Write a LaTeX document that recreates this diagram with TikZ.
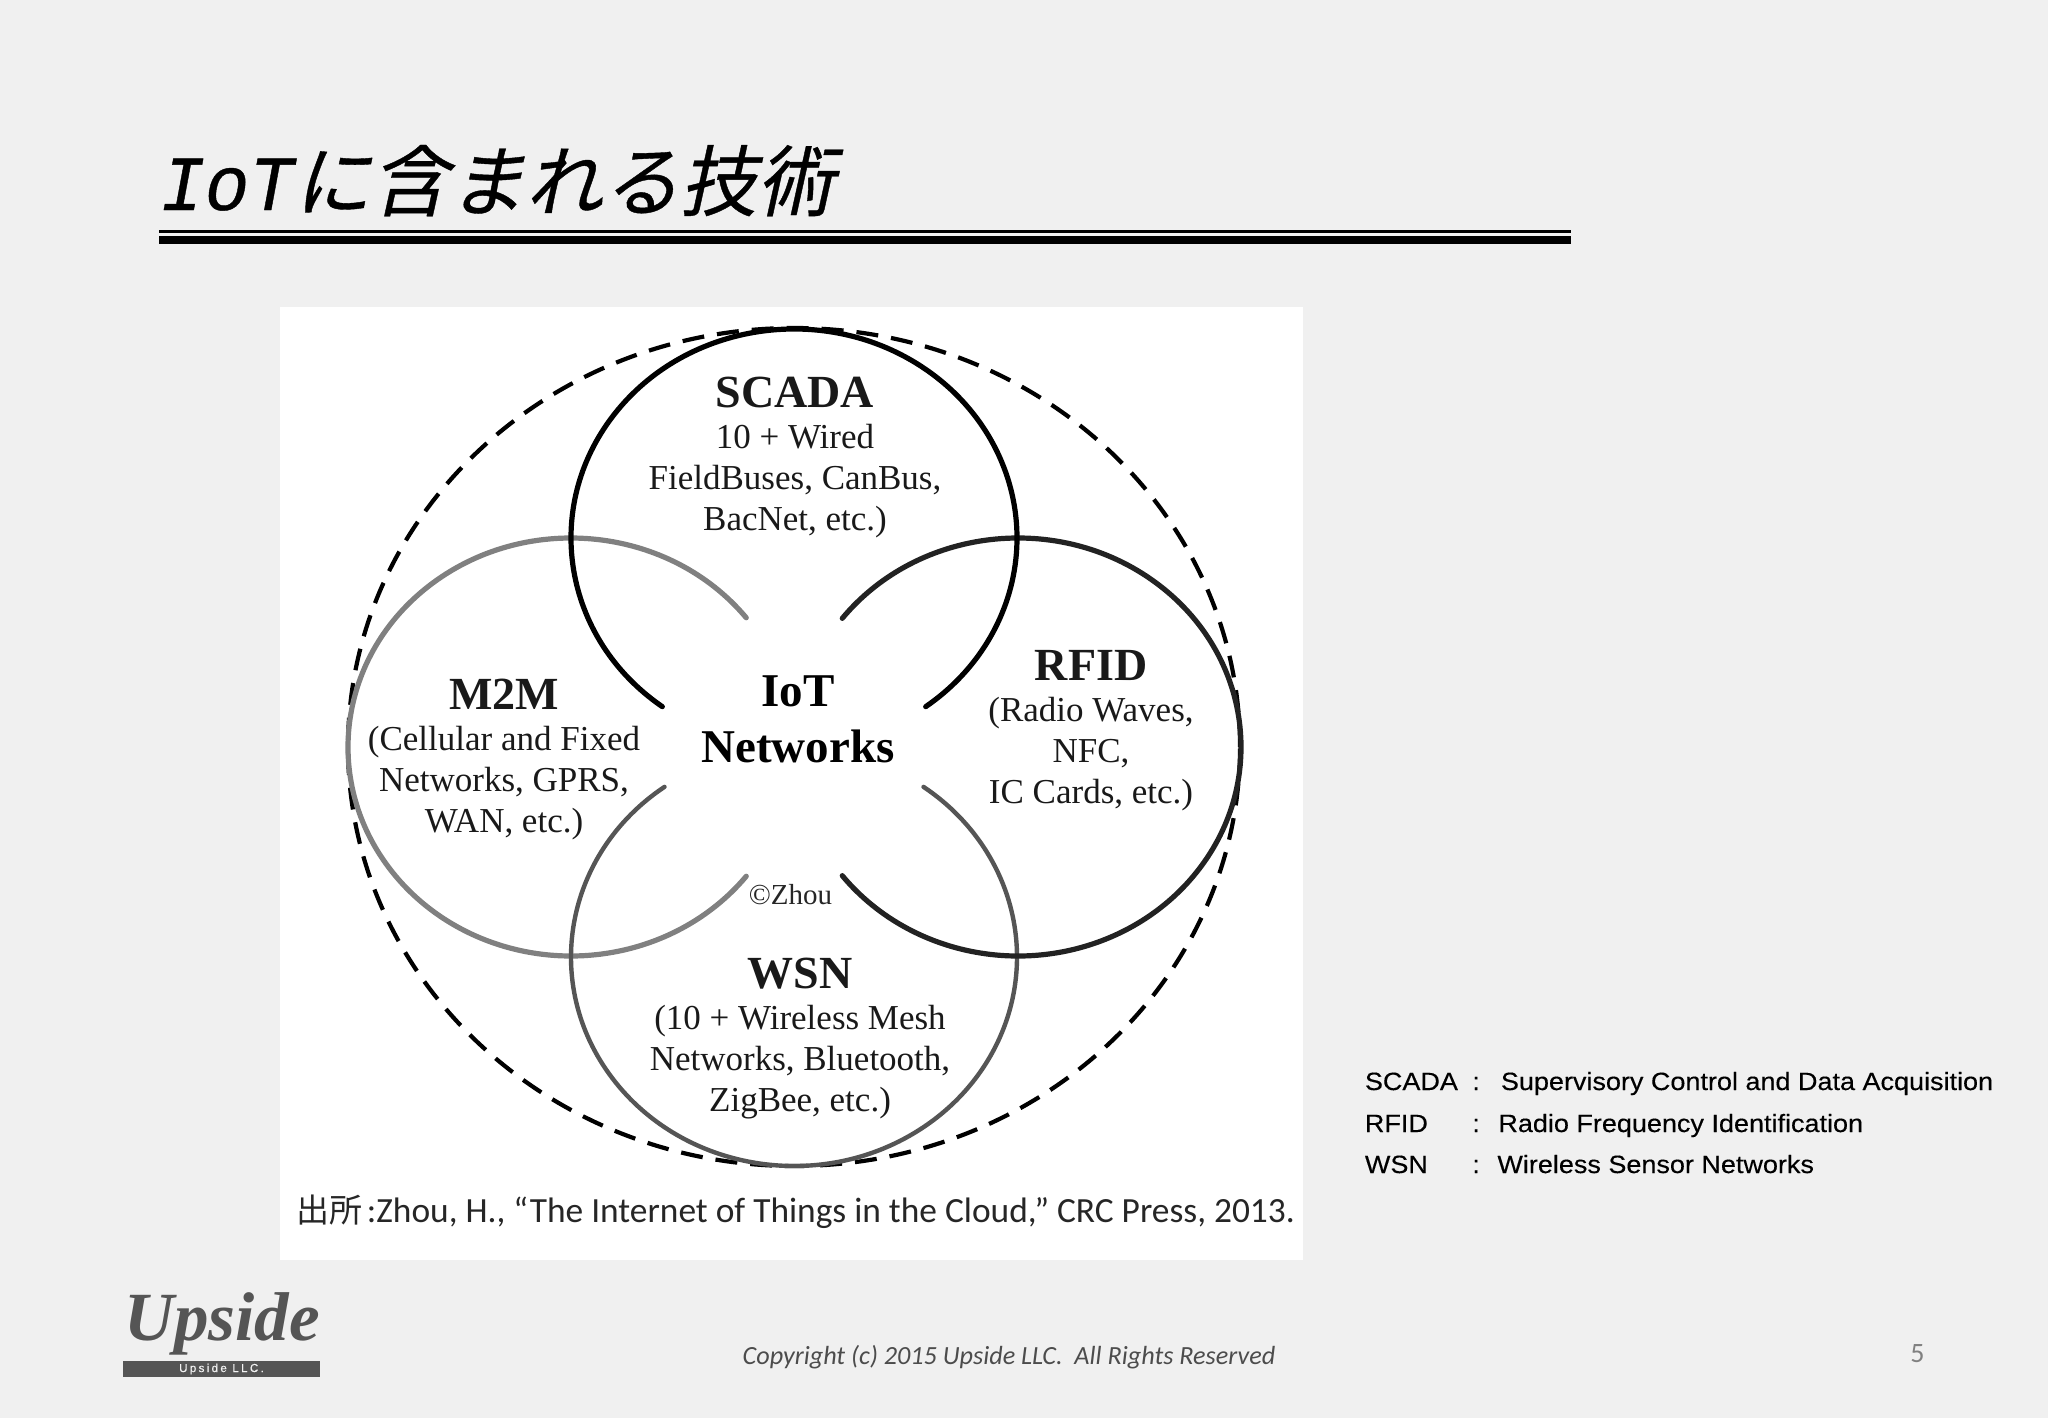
\documentclass[tikz,border=0pt]{standalone}
\usepackage{fontspec}
\setmainfont{Liberation Serif}
\newfontfamily\cjkfont{Noto Sans CJK JP}
\newfontfamily\titlecjk[FakeSlant=0.22,FakeBold=0.5]{Noto Sans CJK JP}
\newfontfamily\titlelat[FakeBold=0.5,FakeStretch=0.95]{Liberation Mono}
\newfontfamily\califont{Carlito}
\newfontfamily\legendfont[FakeStretch=1.08,FakeBold=0.25]{Liberation Sans}
\newfontfamily\llcfont[LetterSpace=20,FakeBold=0.5]{Liberation Sans}
\definecolor{slidebg}{HTML}{F0F0F0}
\definecolor{gM}{HTML}{808080}
\definecolor{gR}{HTML}{222222}
\definecolor{gW}{HTML}{555555}
\definecolor{logo}{HTML}{555555}
\newcommand{\capt}[1]{{\fontsize{23}{20.5}\selectfont\bfseries #1}}
\tikzset{
  circ/.style={line width=2.6pt, line cap=round},
  dashring/.style={draw=black, line width=2.1pt, dash pattern=on 11pt off 6.5pt},
  blockt/.style={anchor=base, inner sep=0pt, align=center, text=black!90,
     font=\fontsize{17.5}{20.5}\selectfont},
  big/.style={anchor=base, inner sep=0pt, align=center, text=black,
     font=\fontsize{23.5}{28.2}\selectfont\bfseries},
  legend/.style={anchor=base west, inner sep=0pt, text=black,
     font=\legendfont\fontsize{12.5}{15}\selectfont},
}
\begin{document}
\begin{tikzpicture}[x=0.5pt,y=-0.5pt]
\useasboundingbox (0,0) rectangle (2048,1418);
\fill[slidebg] (0,0) rectangle (2048,1418);
% title
\node[anchor=base west, inner sep=0pt] (title) at (160,210)
  {\fontsize{39}{45}\selectfont{\titlelat\itshape IoT}{\titlecjk\fontsize{38.6}{45}\selectfont に含まれる技術}};
\fill[black] (159,230) rectangle (1571,233);
\fill[black] (159,235.5) rectangle (1571,243.5);
% figure panel
\fill[white] (280,307) rectangle (1303,1260);
\coordinate (cS) at (794,538);
\coordinate (cW) at (794,957);
\coordinate (cM) at (571,747);
\coordinate (cR) at (1018,747);
\coordinate (cO) at (794,747);
\draw[dashring] (cO) ellipse [x radius=223pt, y radius=209.5pt];
\draw[circ, draw=gM] (cM) ++(38.2:111.5pt and 104.5pt)
   arc[start angle=38.2, end angle=321.8, x radius=111.5pt, y radius=104.5pt];
\draw[circ, draw=gW, line width=2.2pt] (cW) ++(125.5:111.5pt and 104.5pt)
   arc[start angle=125.5, end angle=414.5, x radius=111.5pt, y radius=104.5pt];
\draw[circ, draw=gR] (cR) ++(142:111.5pt and 104.5pt)
   arc[start angle=142, end angle=-142, x radius=111.5pt, y radius=104.5pt];
\draw[circ, draw=black] (cS) ++(233.8:111.5pt and 104.5pt)
   arc[start angle=233.8, end angle=-53.8, x radius=111.5pt, y radius=104.5pt];
% circle texts
\node[blockt] (scada) at (795,530.5) {\capt{SCADA}\\10 + Wired\\FieldBuses, CanBus,\\BacNet, etc.)};
\node[blockt] (m2m) at (504,832) {\capt{M2M}\\(Cellular and Fixed\\Networks, GPRS,\\WAN, etc.)};
\node[blockt] (rfid) at (1091,803) {\capt{RFID}\\(Radio Waves,\\NFC,\\IC Cards, etc.)};
\node[blockt] (wsn) at (800,1111) {\capt{WSN}\\(10 + Wireless Mesh\\Networks, Bluetooth,\\ZigBee, etc.)};
\node[big] (iot) at (798,762.5) {IoT\\Networks};
\node[anchor=base, inner sep=0pt, text=black!85, font=\fontsize{14.5}{16}\selectfont] (zhou) at (790.5,904) {©Zhou};
% citation
\node[anchor=base west, inner sep=0pt, text=black!85] (cite) at (296.5,1222)
  {\califont\fontsize{17.7}{20}\selectfont{\cjkfont\fontsize{16.5}{20}\selectfont 出所}\kern2pt:Zhou, H., “The Internet of Things in the Cloud,” CRC Press, 2013.};
% legend
\node[legend] (l1a) at (1364.5,1090) {SCADA};
\node[legend] (l1b) at (1472,1090) {:};
\node[legend] (l1c) at (1500.5,1090) {Supervisory Control and Data Acquisition};
\node[legend] (l2a) at (1364.5,1132) {RFID};
\node[legend] (l2b) at (1472,1132) {:};
\node[legend] (l2c) at (1498,1132) {Radio Frequency Identification};
\node[legend] (l3a) at (1364.5,1173) {WSN};
\node[legend] (l3b) at (1472,1173) {:};
\node[legend] (l3c) at (1497,1173) {Wireless Sensor Networks};
% logo
\node[anchor=base west, inner sep=0pt, text=logo, font=\fontsize{34.5}{40}\selectfont\bfseries\itshape] (upside) at (124,1340) {Upside};
\node[anchor=center, fill=logo, minimum width=98.5pt, minimum height=8pt, inner sep=0pt, text=white!95!black,
   font=\llcfont\fontsize{5.8}{6}\selectfont] (upllc) at (221.5,1369) {Upside LLC.};
% footer
\node[anchor=base, inner sep=0pt, text=black!70, font=\califont\itshape\fontsize{13.1}{15}\selectfont] (copy) at (1009,1364)
  {Copyright (c) 2015 Upside LLC.\ \ All Rights Reserved};
\node[anchor=base, inner sep=0pt, text=black!50, font=\califont\fontsize{14}{16}\selectfont] (pageno) at (1917.5,1362) {5};
\end{tikzpicture}
\end{document}
